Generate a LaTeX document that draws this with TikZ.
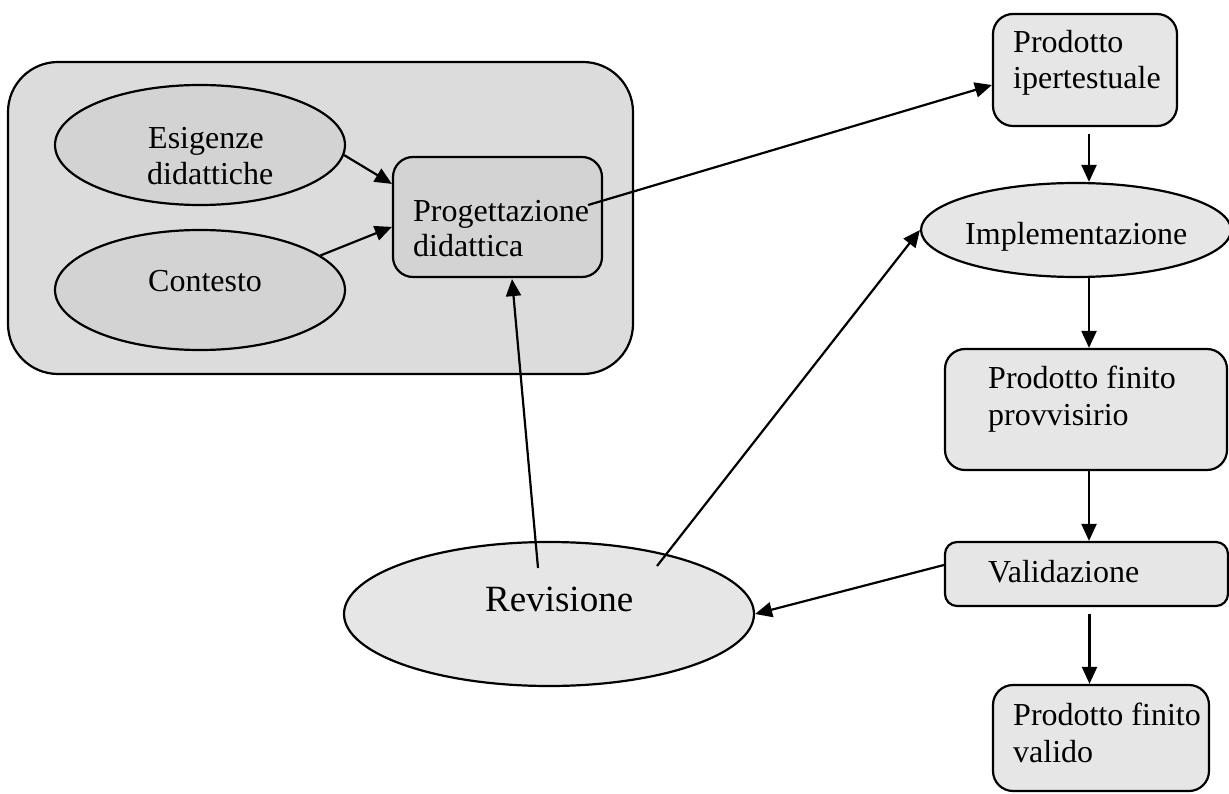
\documentclass[tikz,border=0pt]{standalone}
\usepackage{fontspec}
\setmainfont{Liberation Serif}
\usetikzlibrary{arrows.meta,shapes.geometric}
\definecolor{bigfill}{HTML}{DCDCDC}
\definecolor{infill}{HTML}{D3D3D3}
\definecolor{outfill}{HTML}{E6E6E6}
\tikzset{
  lw/.style={line width=2.2pt},
  rbox/.style={draw,lw,rectangle,rounded corners=20pt,inner sep=0pt},
  ell/.style={draw,lw,ellipse,inner sep=0pt},
  txt/.style={anchor=base west,inner sep=0pt,font=\fontsize{32}{36}\selectfont},
  arr/.style={lw,-{Triangle[length=17pt,width=15pt]}}
}
\begin{document}
\begin{tikzpicture}[x=1pt,y=-1pt]
\useasboundingbox (0,0) rectangle (1229,794);
% group
\node[rbox,rounded corners=50pt,fill=bigfill,minimum width=625pt,minimum height=312pt] (grp) at (320.5,218) {};
\node[ell,fill=infill,minimum width=290pt,minimum height=120pt] (esig) at (200,145) {};
\node[ell,fill=infill,minimum width=290pt,minimum height=120pt] (cont) at (200,290) {};
\node[rbox,fill=infill,minimum width=209pt,minimum height=120pt] (proj) at (497.5,217) {};
% right column
\node[rbox,fill=outfill,minimum width=184pt,minimum height=112pt] (ipert) at (1085,70) {};
\node[ell,fill=outfill,minimum width=310pt,minimum height=94pt] (impl) at (1076,230) {};
\node[rbox,fill=outfill,minimum width=282pt,minimum height=121pt] (prov) at (1086,409.5) {};
\node[rbox,fill=outfill,rounded corners=12pt,minimum width=283pt,minimum height=64pt] (valid) at (1086.5,574) {};
\node[rbox,fill=outfill,minimum width=216pt,minimum height=106pt] (fin) at (1101,738) {};
\node[ell,fill=outfill,minimum width=410pt,minimum height=144pt] (rev) at (549,614) {};
% texts
\node[txt] (t1) at (148,149) {Esigenze};
\node[txt] (t2) at (147,185) {didattiche};
\node[txt] (t3) at (148,292) {Contesto};
\node[txt] (t4) at (413,222) {Progettazione};
\node[txt] (t5) at (413,257) {didattica};
\node[txt] (t6) at (1013,53) {Prodotto};
\node[txt] (t7) at (1013,89) {ipertestuale};
\node[txt] (t8) at (965,245) {Implementazione};
\node[txt] (t9) at (988,388) {Prodotto finito};
\node[txt] (t10) at (988,425) {provvisirio};
\node[txt] (t11) at (988,582) {Validazione};
\node[txt] (t12) at (1013,725) {Prodotto finito};
\node[txt] (t13) at (1013,762) {valido};
\node[txt,font=\fontsize{37}{40}\selectfont] (t14) at (485,611) {Revisione};
% connectors
\draw[arr] (esig.-4) -- ([yshift=-28pt]proj.north west);
\draw[arr] (cont.16) -- ([yshift=-71pt]proj.north west);
\draw[arr] ([shift={(-15pt,12pt)}]proj.east) -- ([yshift=-15pt]ipert.west);
\draw[arr] ([shift={(-11pt,46pt)}]rev.center) -- ([shift={(14.5pt,-1pt)}]proj.south);
\draw[arr] ([shift={(108pt,48pt)}]rev.center) -- (impl.west);
\draw[arr] ([yshift=9pt]valid.west) -- (rev.east);
\coordinate (c1) at ([shift={(4pt,-7pt)}]ipert.south);
\draw[arr] (c1) -- (c1 |- impl.north);
\coordinate (c2) at ([xshift=13pt]impl.south);
\draw[arr] (c2) -- (c2 |- prov.north);
\coordinate (c3) at ([xshift=3pt]prov.south);
\draw[arr] (c3) -- (c3 |- valid.north);
\coordinate (c4) at ([shift={(3pt,-7pt)}]valid.south);
\draw[arr] (c4) -- (c4 |- fin.north);
\end{tikzpicture}
\end{document}
